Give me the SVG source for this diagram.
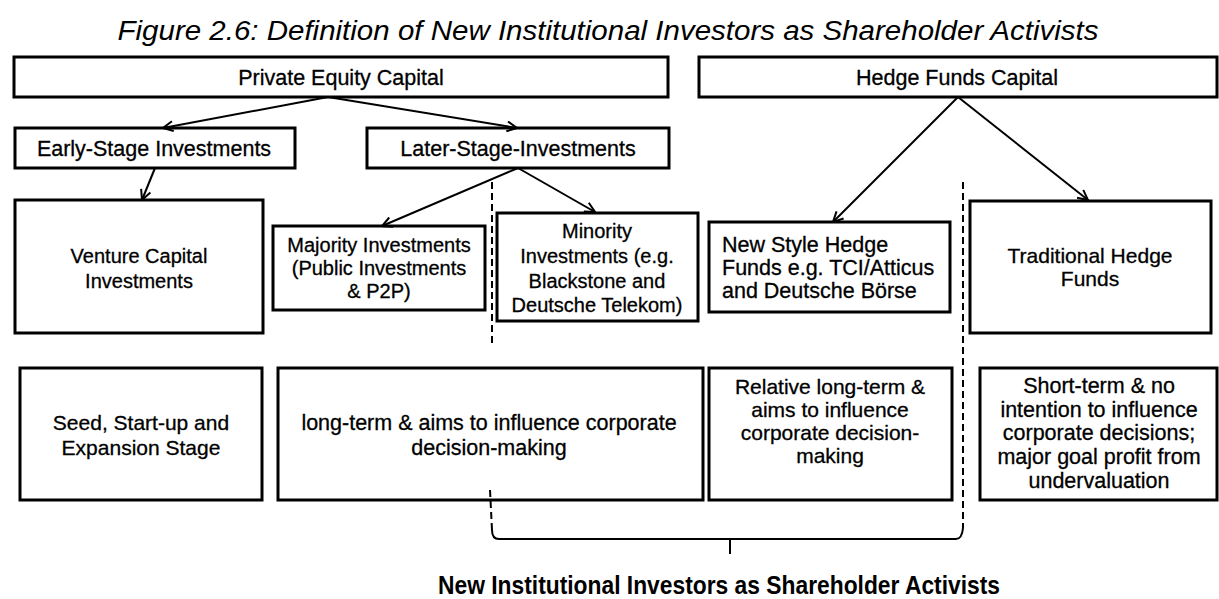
<svg xmlns="http://www.w3.org/2000/svg" width="1219" height="599" viewBox="0 0 1219 599">
  <defs>
    <style>
      .box { fill: #ffffff; stroke: #000000; stroke-width: 3; }
      .lbl { font-family: "Liberation Sans", Arial, sans-serif; font-size: 21px; fill: #000000; stroke: #000000; stroke-width: 0.3; text-anchor: middle; }
      .big { font-size: 21.5px; }
      .small { font-size: 20px; }
      .left { text-anchor: start; }
      .conn { fill: none; stroke: #000000; stroke-width: 2; marker-end: url(#arrow); }
      .dash { fill: none; stroke: #000000; stroke-width: 2; stroke-dasharray: 7 4; }
      .brace { fill: none; stroke: #000000; stroke-width: 2; }
      .title { font-family: "Liberation Sans", Arial, sans-serif; font-size: 27px; font-style: italic; fill: #000000; text-anchor: middle; }
      .caption { font-family: "Liberation Sans", Arial, sans-serif; font-size: 25px; font-weight: bold; fill: #000000; text-anchor: middle; }
    </style>
    <marker id="arrow" viewBox="0 0 12 12" refX="11" refY="6" markerWidth="12" markerHeight="12" markerUnits="userSpaceOnUse" orient="auto">
      <path d="M1,1 L11,6 L1,11" fill="none" stroke="#000000" stroke-width="2"/>
    </marker>
  </defs>

  <rect width="1219" height="599" fill="#ffffff"/>

  <text class="title" x="608" y="40" textLength="981" lengthAdjust="spacingAndGlyphs">Figure 2.6: Definition of New Institutional Investors as Shareholder Activists</text>

  <!-- Top level -->
  <g id="private-equity">
    <rect class="box" x="14" y="57" width="654" height="40"/>
    <text class="lbl big" x="341" y="85">Private Equity Capital</text>
  </g>
  <g id="hedge-funds">
    <rect class="box" x="699" y="57" width="518" height="40"/>
    <text class="lbl big" x="957" y="85">Hedge Funds Capital</text>
  </g>

  <!-- Stage level -->
  <g id="early-stage">
    <rect class="box" x="15" y="128" width="280" height="40"/>
    <text class="lbl big" x="154" y="156">Early-Stage Investments</text>
  </g>
  <g id="later-stage">
    <rect class="box" x="367" y="128" width="302" height="40"/>
    <text class="lbl big" x="518" y="156">Later-Stage-Investments</text>
  </g>

  <!-- Investor types -->
  <g id="venture-capital">
    <rect class="box" x="15" y="200" width="248" height="133"/>
    <text class="lbl small" x="139" y="263">Venture Capital</text>
    <text class="lbl small" x="139" y="288">Investments</text>
  </g>
  <g id="majority">
    <rect class="box" x="273" y="226" width="212" height="84"/>
    <text class="lbl small" x="379" y="252">Majority Investments</text>
    <text class="lbl small" x="379" y="275">(Public Investments</text>
    <text class="lbl small" x="379" y="298">&amp; P2P)</text>
  </g>
  <g id="minority">
    <rect class="box" x="497" y="213" width="201" height="108"/>
    <text class="lbl small" x="597" y="238">Minority</text>
    <text class="lbl small" x="597" y="263">Investments (e.g.</text>
    <text class="lbl small" x="597" y="288">Blackstone and</text>
    <text class="lbl small" x="597" y="312">Deutsche Telekom)</text>
  </g>
  <g id="new-style">
    <rect class="box" x="709" y="222" width="241" height="90"/>
    <text class="lbl big left" x="722" y="252">New Style Hedge</text>
    <text class="lbl big left" x="722" y="275">Funds e.g. TCI/Atticus</text>
    <text class="lbl big left" x="722" y="298">and Deutsche Börse</text>
  </g>
  <g id="traditional">
    <rect class="box" x="970" y="201" width="241" height="132"/>
    <text class="lbl" x="1090" y="263">Traditional Hedge</text>
    <text class="lbl" x="1090" y="286">Funds</text>
  </g>

  <!-- Characteristics -->
  <g id="seed">
    <rect class="box" x="20" y="368" width="242" height="132"/>
    <text class="lbl" x="141" y="430">Seed, Start-up and</text>
    <text class="lbl" x="141" y="455">Expansion Stage</text>
  </g>
  <g id="long-term">
    <rect class="box" x="278" y="368" width="425" height="132"/>
    <text class="lbl big" x="489" y="430">long-term &amp; aims to influence corporate</text>
    <text class="lbl big" x="489" y="455">decision-making</text>
  </g>
  <g id="relative">
    <rect class="box" x="709" y="368" width="243" height="132"/>
    <text class="lbl" x="830" y="394">Relative long-term &amp;</text>
    <text class="lbl" x="830" y="417">aims to influence</text>
    <text class="lbl" x="830" y="440">corporate decision-</text>
    <text class="lbl" x="830" y="463">making</text>
  </g>
  <g id="short-term">
    <rect class="box" x="980" y="368" width="237" height="132"/>
    <text class="lbl big" x="1099" y="393">Short-term &amp; no</text>
    <text class="lbl big" x="1099" y="417">intention to influence</text>
    <text class="lbl big" x="1099" y="440">corporate decisions;</text>
    <text class="lbl big" x="1099" y="464">major goal profit from</text>
    <text class="lbl big" x="1099" y="488">undervaluation</text>
  </g>

  <!-- Connectors -->
  <g id="connectors">
    <path class="conn" d="M328,97 L163,128"/>
    <path class="conn" d="M328,97 L517,128"/>
    <path class="conn" d="M155,168 L142,200"/>
    <path class="conn" d="M518,168 L382,226"/>
    <path class="conn" d="M518,168 L595,212"/>
    <path class="conn" d="M958,97 L833,222"/>
    <path class="conn" d="M958,97 L1088,200"/>

    <!-- Dashed separators and the bracket grouping the activist investors -->
    <path class="dash" d="M492,182 L492,345"/>
    <path class="dash" d="M490,490 L492,530"/>
    <path class="dash" d="M963,182 L963,528"/>
    <path class="brace" d="M492,530 Q492,539 499,539 L956,539 Q962,539 963,528"/>
    <path class="brace" d="M730,539 L730,554"/>
  </g>

  <text class="caption" x="719" y="594" textLength="562" lengthAdjust="spacingAndGlyphs">New Institutional Investors as Shareholder Activists</text>
</svg>
